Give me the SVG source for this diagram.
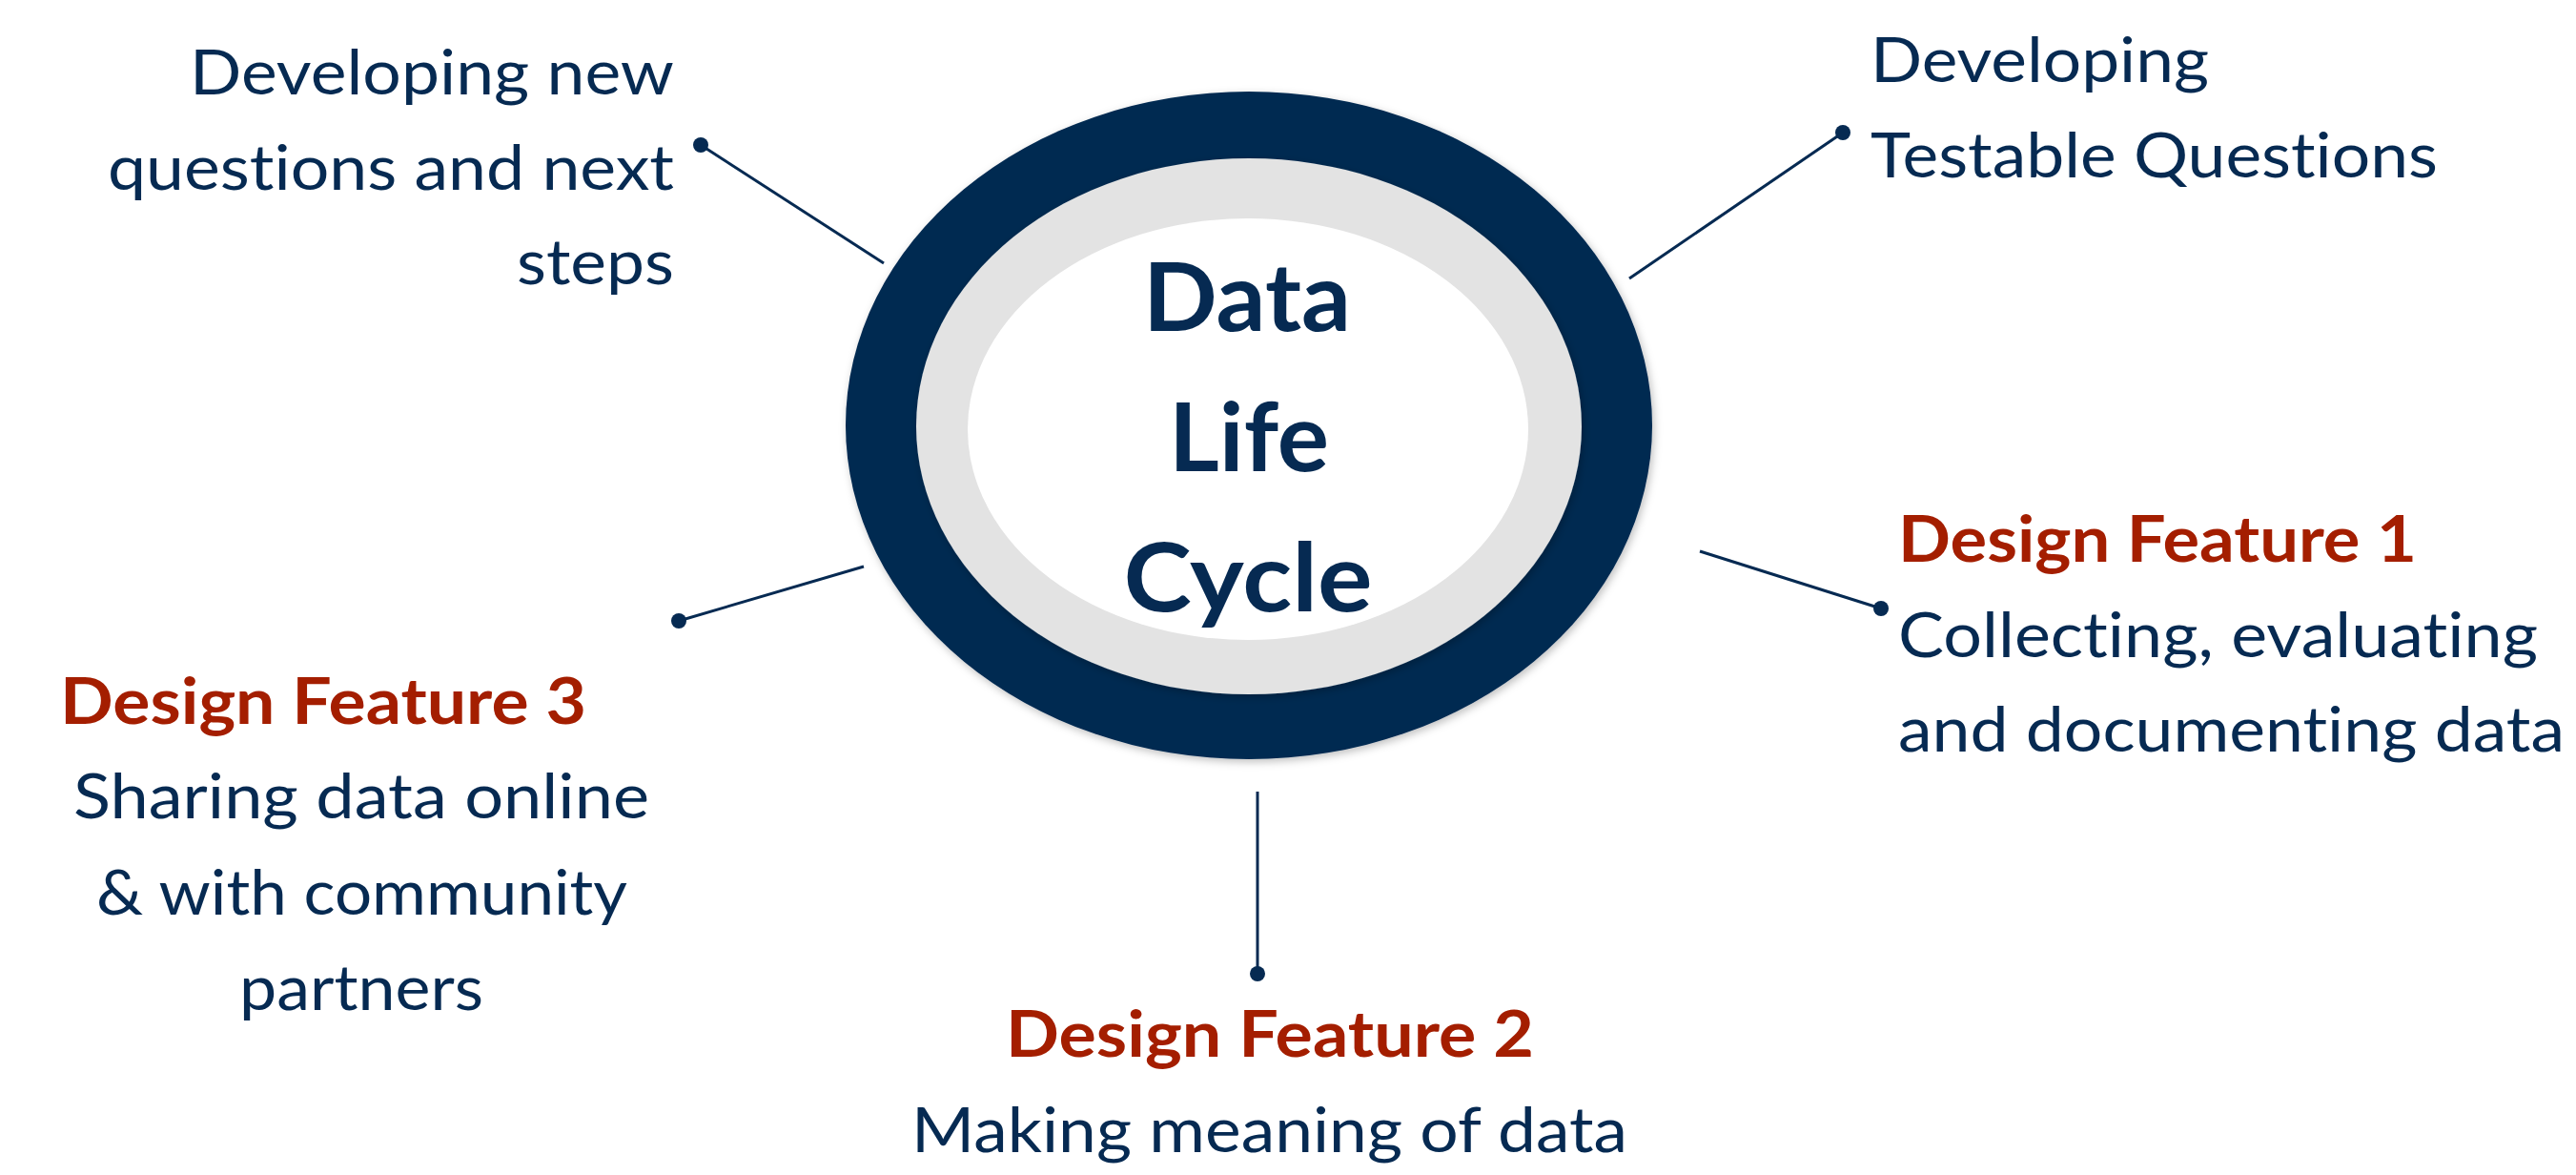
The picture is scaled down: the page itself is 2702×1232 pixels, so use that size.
<svg xmlns="http://www.w3.org/2000/svg" width="2702" height="1232" viewBox="0 0 2702 1232">
  <style>
    text { font-variant-ligatures: none; }
    .body { font-family: Lato, "Open Sans", "Liberation Sans", sans-serif; font-size: 66px; fill: #062A52; }
    .head { font-family: Lato, "Open Sans", "Liberation Sans", sans-serif; font-size: 66px; font-weight: 700; fill: #A41E00; }
    .hub { font-family: Lato, "Open Sans", "Liberation Sans", sans-serif; font-size: 100px; font-weight: 700; fill: #062A52; text-anchor: middle; }
    .link { stroke: #062A52; stroke-width: 3; fill: none; }
    .dot { fill: #062A52; }
  </style>
  <defs>
    <filter id="soft" x="-10%" y="-10%" width="120%" height="120%">
      <feDropShadow dx="2" dy="3" stdDeviation="4" flood-color="#000" flood-opacity="0.25"/>
    </filter>
  </defs>
  <rect width="2702" height="1232" fill="#FFFFFF"/>

  <!-- central hub: navy ring, grey band, white core -->
  <g id="hub">
    <ellipse cx="1310" cy="446" rx="423" ry="350" fill="#052A51" filter="url(#soft)"/>
    <ellipse cx="1310" cy="447" rx="349" ry="281" fill="#E3E3E3" filter="url(#soft)"/>
    <ellipse cx="1309" cy="450" rx="294" ry="221" fill="#FFFFFF"/>
    <text class="hub" x="1308" y="347" textLength="218" lengthAdjust="spacingAndGlyphs">Data</text>
    <text class="hub" x="1310" y="494" textLength="168" lengthAdjust="spacingAndGlyphs">Life</text>
    <text class="hub" x="1309" y="641" textLength="261" lengthAdjust="spacingAndGlyphs">Cycle</text>
  </g>

  <!-- connectors from the hub out to each stage -->
  <g id="connectors">
    <line class="link" x1="927" y1="276" x2="735" y2="152"/>
    <circle class="dot" cx="735" cy="152" r="8"/>
    <line class="link" x1="1709" y1="292" x2="1933" y2="139"/>
    <circle class="dot" cx="1933" cy="139" r="8"/>
    <line class="link" x1="1783" y1="578" x2="1973" y2="638"/>
    <circle class="dot" cx="1973" cy="638" r="8"/>
    <line class="link" x1="1319" y1="830" x2="1319" y2="1021"/>
    <circle class="dot" cx="1319" cy="1021" r="8"/>
    <line class="link" x1="906" y1="594" x2="712" y2="651"/>
    <circle class="dot" cx="712" cy="651" r="8"/>
  </g>

  <g id="next-steps">
    <text class="body" x="199" y="99" textLength="508" lengthAdjust="spacingAndGlyphs">Developing new</text>
    <text class="body" x="113" y="199" textLength="594" lengthAdjust="spacingAndGlyphs">questions and next</text>
    <text class="body" x="542" y="298" textLength="165" lengthAdjust="spacingAndGlyphs">steps</text>
  </g>

  <g id="testable-questions">
    <text class="body" x="1962" y="86" textLength="355" lengthAdjust="spacingAndGlyphs">Developing</text>
    <text class="body" x="1962" y="186" textLength="595" lengthAdjust="spacingAndGlyphs">Testable Questions</text>
  </g>

  <g id="design-feature-1">
    <text class="head" x="1991" y="589" textLength="544" lengthAdjust="spacingAndGlyphs">Design Feature 1</text>
    <text class="body" x="1991" y="689" textLength="671" lengthAdjust="spacingAndGlyphs">Collecting, evaluating</text>
    <text class="body" x="1991" y="788" textLength="699" lengthAdjust="spacingAndGlyphs">and documenting data</text>
  </g>

  <g id="design-feature-2">
    <text class="head" x="1055" y="1108" textLength="554" lengthAdjust="spacingAndGlyphs">Design Feature 2</text>
    <text class="body" x="956" y="1208" textLength="751" lengthAdjust="spacingAndGlyphs">Making meaning of data</text>
  </g>

  <g id="design-feature-3">
    <text class="head" x="63" y="759" textLength="552" lengthAdjust="spacingAndGlyphs">Design Feature 3</text>
    <text class="body" x="77" y="858" textLength="604" lengthAdjust="spacingAndGlyphs">Sharing data online</text>
    <text class="body" x="101" y="959" textLength="557" lengthAdjust="spacingAndGlyphs">&amp; with community</text>
    <text class="body" x="251" y="1059" textLength="256" lengthAdjust="spacingAndGlyphs">partners</text>
  </g>
</svg>
